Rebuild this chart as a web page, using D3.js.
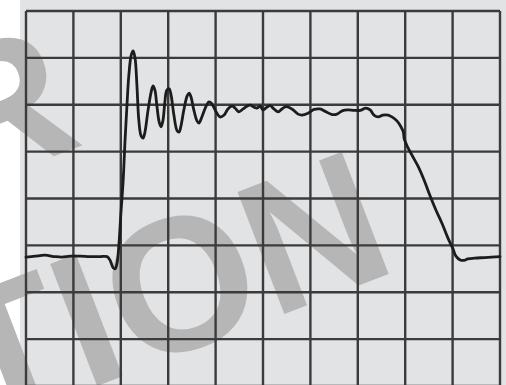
<!DOCTYPE html>
<html>
<head>
<meta charset="utf-8">
<script src="https://cdn.jsdelivr.net/npm/d3@7"></script>
<style>
  html, body { margin: 0; padding: 0; background: #fff; }
  svg { display: block; }
</style>
</head>
<body>
<div id="chart"></div>
<script>
// scope trace, values in screen divisions (10 x 8 graticule)
const divX = 10;
const divY = 8;

const timeDiv = [0, 0.19, 0.40, 0.61, 0.76, 0.93, 1.14, 1.35, 1.56, 1.71, 1.77, 1.84, 1.88, 1.92, 1.96, 2.00,
  2.05, 2.09, 2.13, 2.17, 2.22, 2.26, 2.30, 2.34, 2.38, 2.43, 2.47, 2.51, 2.57, 2.64, 2.68, 2.72, 2.76, 2.81,
  2.85, 2.89, 2.93, 2.97, 3.02, 3.06, 3.12, 3.19, 3.23, 3.27, 3.33, 3.40, 3.44, 3.48, 3.54, 3.61, 3.65, 3.71,
  3.80, 3.86, 3.92, 4.01, 4.09, 4.18, 4.26, 4.35, 4.41, 4.49, 4.58, 4.66, 4.73, 4.81, 4.87, 4.94, 5.00, 5.06,
  5.15, 5.23, 5.32, 5.40, 5.49, 5.61, 5.74, 5.82, 5.95, 6.08, 6.20, 6.33, 6.46, 6.56, 6.67, 6.79, 6.92, 7.05,
  7.17, 7.26, 7.34, 7.43, 7.53, 7.64, 7.72, 7.83, 7.91, 7.96, 7.98, 8.04, 8.14, 8.27, 8.40, 8.52, 8.65, 8.78,
  8.90, 9.01, 9.07, 9.16, 9.24, 9.32, 9.47, 9.68, 10];

const levelDiv = [2.75, 2.77, 2.79, 2.76, 2.75, 2.77, 2.77, 2.76, 2.76, 2.76, 2.69, 2.52, 2.50, 2.62, 3.01, 3.65,
  4.39, 5.25, 5.99, 6.63, 7.06, 7.15, 7.00, 6.42, 5.67, 5.33, 5.29, 5.42, 5.85, 6.27, 6.40, 6.31, 5.99, 5.63,
  5.53, 5.67, 6.06, 6.31, 6.34, 6.21, 5.78, 5.44, 5.42, 5.55, 5.89, 6.19, 6.25, 6.17, 5.89, 5.65, 5.61, 5.74,
  5.97, 6.06, 6.02, 5.85, 5.74, 5.78, 5.91, 5.97, 5.93, 5.85, 5.91, 5.97, 5.99, 5.95, 5.93, 5.97, 5.89, 5.93,
  5.98, 5.91, 5.85, 5.91, 5.96, 5.91, 5.80, 5.78, 5.82, 5.90, 5.91, 5.85, 5.79, 5.80, 5.87, 5.89, 5.88, 5.88,
  5.93, 5.89, 5.78, 5.74, 5.78, 5.78, 5.74, 5.65, 5.53, 5.42, 5.27, 5.12, 4.93, 4.69, 4.39, 4.07, 3.75, 3.46,
  3.16, 2.92, 2.77, 2.69, 2.68, 2.71, 2.73, 2.74, 2.76];

const watermark = ["R", "TION"];

const W = 506, H = 385;
const margin = { left: 26, right: 6, top: 11, bottom: -1 };

const svg = d3.select("#chart").append("svg")
  .attr("width", W)
  .attr("height", H);

const xScale = d3.scaleLinear().domain([0, divX]).range([margin.left, W - margin.right]);
const yScale = d3.scaleLinear().domain([0, divY]).range([H - margin.bottom, margin.top]);

// screen background
svg.append("rect")
  .attr("x", 20).attr("y", 0)
  .attr("width", W - 20).attr("height", H)
  .attr("fill", "#e2e3e5");

// watermark letters, under the graticule
const wm = svg.append("g")
  .attr("font-family", "'Liberation Sans', Arial, sans-serif")
  .attr("font-weight", "bold")
  .attr("font-size", 190)
  .attr("fill", "#b6b6b6");
wm.append("text")
  .attr("transform", "translate(-42,193) rotate(-21)")
  .text(watermark[0]);
wm.append("text")
  .attr("transform", "translate(-23,432) rotate(-21)")
  .text(watermark[1]);

// graticule
const grid = svg.append("g")
  .attr("stroke", "#3b3b3b")
  .attr("stroke-width", 2.4);
grid.selectAll("line.v")
  .data(d3.range(0, divX + 1))
  .join("line")
  .attr("class", "v")
  .attr("x1", d => xScale(d)).attr("x2", d => xScale(d))
  .attr("y1", yScale(divY)).attr("y2", yScale(0));
grid.selectAll("line.h")
  .data(d3.range(0, divY + 1))
  .join("line")
  .attr("class", "h")
  .attr("x1", xScale(0)).attr("x2", xScale(divX))
  .attr("y1", d => yScale(d)).attr("y2", d => yScale(d));

// trace
const data = timeDiv.map((t, i) => ({ t, v: levelDiv[i] }));
const line = d3.line()
  .x(d => xScale(d.t))
  .y(d => yScale(d.v))
  .curve(d3.curveCatmullRom.alpha(0.5));

svg.append("path")
  .datum(data)
  .attr("fill", "none")
  .attr("stroke", "#1c1c1c")
  .attr("stroke-width", 2.8)
  .attr("stroke-linejoin", "round")
  .attr("stroke-linecap", "round")
  .attr("d", line);
</script>
</body>
</html>
